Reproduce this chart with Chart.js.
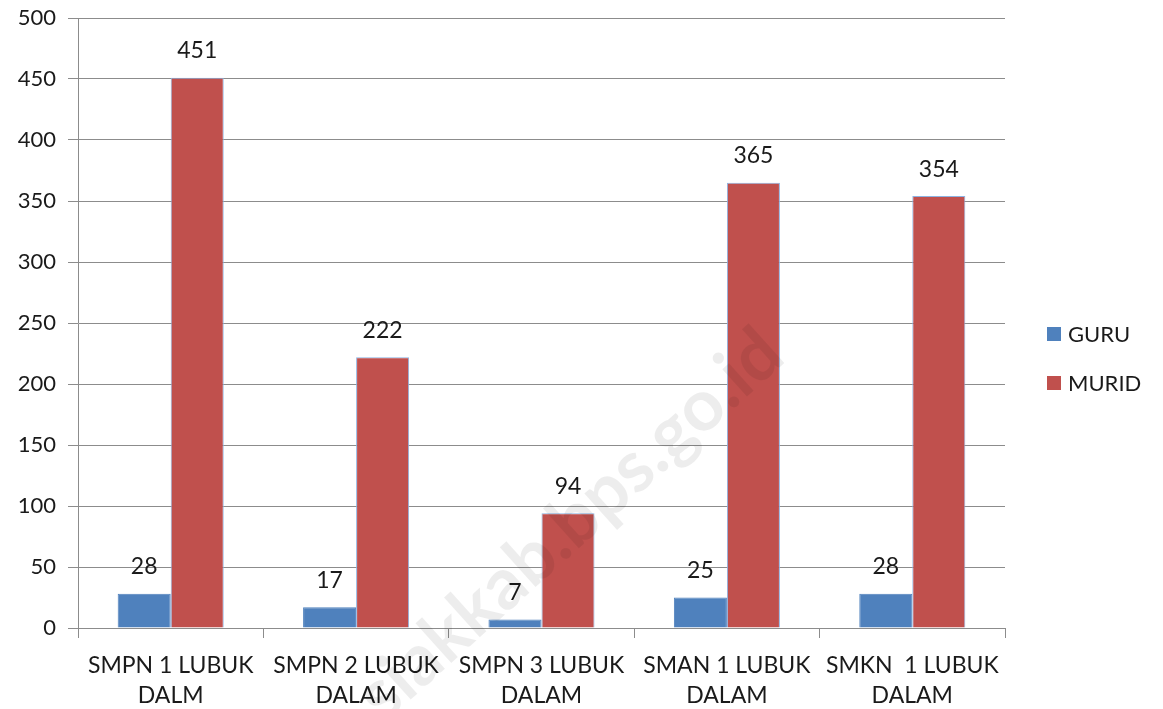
<!DOCTYPE html>
<html>
<head>
<meta charset="utf-8">
<script src="https://cdn.jsdelivr.net/npm/chart.js@4/dist/chart.umd.min.js"></script>
<style>
  html, body { margin: 0; padding: 0; background: #fff; }
  #wrap { width: 1163px; height: 709px; }
</style>
</head>
<body>
<div id="wrap"><canvas id="grafikSekolah"></canvas></div>
<script>
const sekolah = [["SMPN 1 LUBUK", "DALM"], ["SMPN 2 LUBUK", "DALAM"], ["SMPN 3 LUBUK", "DALAM"], ["SMAN 1 LUBUK", "DALAM"], ["SMKN  1 LUBUK", "DALAM"]]
const guru = [28, 17, 7, 25, 28]
const murid = [451, 222, 94, 365, 354]
const yTicks = [0, 50, 100, 150, 200, 250, 300, 350, 400, 450, 500]

const fontName = "Lato, 'Open Sans', sans-serif"

// angka di atas batang
const labelBatang = {
    id: 'labelBatang',
    afterDatasetsDraw(chart) {
        const ctx = chart.ctx
        ctx.save()
        ctx.font = '23px ' + fontName
        ctx.fillStyle = '#1a1a1a'
        ctx.textAlign = 'center'
        ctx.textBaseline = 'middle'
        chart.data.datasets.forEach((ds, i) => {
            chart.getDatasetMeta(i).data.forEach((bar, j) => {
                ctx.fillText(ds.data[j], bar.x, bar.y - 27)
            })
        })
        ctx.restore()
    }
}

// legenda di kanan
const legendaKanan = {
    id: 'legendaKanan',
    afterDraw(chart) {
        const ctx = chart.ctx
        ctx.save()
        ctx.font = '22px ' + fontName
        ctx.textBaseline = 'middle'
        chart.data.datasets.forEach((ds, i) => {
            const y = 334 + i * 49
            ctx.fillStyle = ds.backgroundColor
            ctx.fillRect(1047, y - 7, 14, 14)
            ctx.fillStyle = '#1a1a1a'
            ctx.fillText(ds.label, 1068, y + 1)
        })
        ctx.restore()
    }
}

// tanda air
const tandaAir = {
    id: 'tandaAir',
    afterDraw(chart) {
        const ctx = chart.ctx
        ctx.save()
        ctx.translate(772, 343)
        ctx.rotate(-42 * Math.PI / 180)
        ctx.font = 'bold 72px ' + fontName
        ctx.fillStyle = 'rgba(0,0,0,0.07)'
        ctx.textAlign = 'right'
        ctx.textBaseline = 'middle'
        ctx.fillText('siakkab.bps.go.id', 0, 0)
        ctx.restore()
    }
}

new Chart(document.querySelector('#grafikSekolah'), {
    type: 'bar',
    data: {
        labels: sekolah,
        datasets: [
            { label: 'GURU', data: guru, backgroundColor: '#4f81bd', borderColor: '#4f81bd', borderWidth: 1 },
            { label: 'MURID', data: murid, backgroundColor: '#c0504d', borderColor: '#8db3e2', borderWidth: 1 }
        ]
    },
    options: {
        responsive: true,
        maintainAspectRatio: false,
        animation: false,
        devicePixelRatio: 1,
        layout: { padding: { top: 18, right: 158, left: 0, bottom: 0 } },
        datasets: { bar: { barPercentage: 1, categoryPercentage: 0.572 } },
        plugins: { legend: { display: false }, tooltip: { enabled: false } },
        scales: {
            x: {
                offset: true,
                grid: { offset: true, drawOnChartArea: false, tickLength: 10, color: '#8c8c8c' },
                border: { color: '#8c8c8c' },
                ticks: { font: { family: fontName, size: 23, lineHeight: 1.3 }, color: '#1a1a1a', padding: 13, maxRotation: 0, autoSkip: false },
                afterFit(scale) { scale.height = 81 }
            },
            y: {
                min: 0,
                max: 500,
                afterBuildTicks(scale) { scale.ticks = yTicks.map(v => ({ value: v })) },
                grid: { color: '#8c8c8c', tickLength: 10 },
                border: { color: '#8c8c8c' },
                ticks: { font: { family: fontName, size: 22 }, color: '#1a1a1a', padding: 12 },
                afterFit(scale) { scale.width = 78; scale.paddingTop = 0; scale.paddingBottom = 0 }
            }
        }
    },
    plugins: [labelBatang, legendaKanan, tandaAir]
})
</script>
</body>
</html>
